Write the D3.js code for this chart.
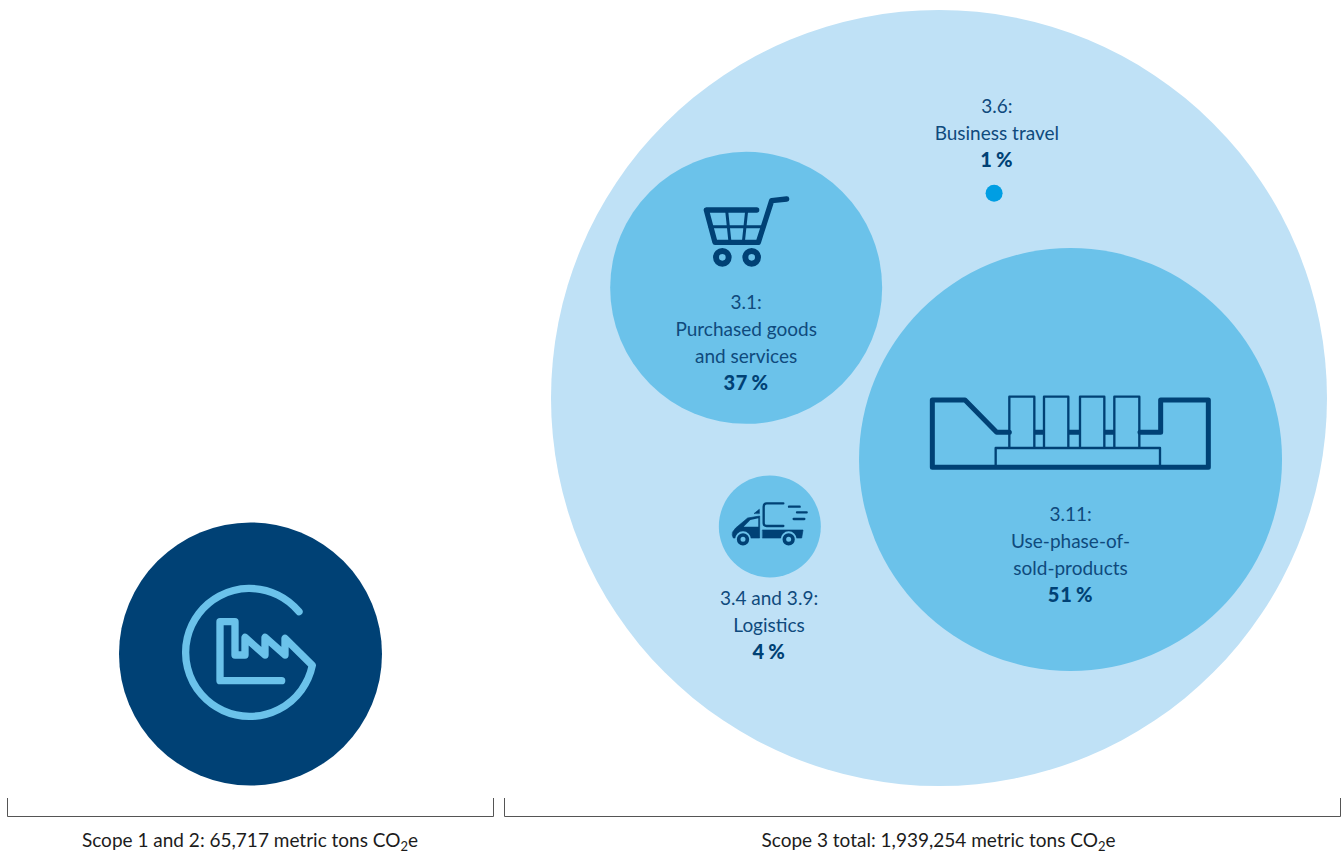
<!DOCTYPE html>
<html>
<head>
<meta charset="utf-8">
<style>
html,body{margin:0;padding:0;background:#fff;}
svg{display:block;}
text{font-family:"Lato","Noto Sans",sans-serif;fill:#0f4a7d;font-size:19px;text-anchor:middle;}
</style>
<script src="https://cdn.jsdelivr.net/npm/d3@7/dist/d3.min.js"></script>
</head>
<body>
<svg id="chart" width="1344" height="853"></svg>
<script>
// Emissions totals, metric tons CO2e
const scopeNames = ["Scope 1 and 2", "Scope 3 total"];
const scopeTons = [65717, 1939254];

// Scope 3 categories
const categoryIds = ["3.11", "3.1", "3.4 and 3.9", "3.6"];
const categoryNames = [["Use-phase-of-", "sold-products"], ["Purchased goods", "and services"], ["Logistics"], ["Business travel"]];
const categoryShares = [51, 37, 4, 1];

const INK = "#004175", PALE = "#bfe1f6", MID = "#6bc2ea", DOT = "#009ee3";
const svg = d3.select("#chart");

// Bubble sizes are illustrative, so each scale runs through its own hand-set stops
const tonsRadius = d3.scaleLinear().domain(scopeTons).range([131.5, 388]);
const shareRadius = d3.scaleLinear().domain([1, 4, 37, 51]).range([8.5, 51, 136, 211.5]);

// Scope 3 layout works in units of the outer circle's radius
const xIn = d3.scaleLinear().domain([-1, 1]).range([551, 1327]);
const yIn = d3.scaleLinear().domain([-1, 1]).range([10, 786]);
const categorySpotX = [0.339, -0.497, -0.436, 0.142];
const categorySpotY = [0.1585, -0.284, 0.331, -0.528];
const categoryLabelX = [0.339, -0.497, -0.438, 0.149];
const categoryLabelTop = [0.316, -0.23, 0.534, -0.734];
const LINE = 27;

svg.append("circle").attr("cx", 250.5).attr("cy", 654).attr("r", tonsRadius(scopeTons[0])).attr("fill", INK);
svg.append("circle").attr("cx", xIn(0)).attr("cy", yIn(0)).attr("r", tonsRadius(scopeTons[1])).attr("fill", PALE);

svg.selectAll("circle.cat").data(categoryShares).join("circle")
  .attr("class", "cat")
  .attr("cx", (d, i) => xIn(categorySpotX[i]))
  .attr("cy", (d, i) => yIn(categorySpotY[i]))
  .attr("r", d => shareRadius(d))
  .attr("fill", d => d === 1 ? DOT : MID);

// Category labels: id, name lines, then the share in bold
categoryShares.forEach((share, i) => {
  const x = xIn(categoryLabelX[i]);
  const top = yIn(categoryLabelTop[i]);
  const lines = [categoryIds[i] + ":", ...categoryNames[i]];
  lines.forEach((t, k) => svg.append("text").attr("x", x).attr("y", top + k * LINE).text(t));
  svg.append("text").attr("x", x).attr("y", top + lines.length * LINE)
    .attr("font-weight", 900).style("fill", INK).style("font-size", "20px").style("letter-spacing", "0.8px").text(share + "\u2009%");
});

// Brackets and captions under the two groups
const brackets = [[7, 494], [504, 1341]];
brackets.forEach((b, i) => {
  svg.append("path").attr("d", `M${b[0]+.5},798V816.5H${b[1]-.5}V798`)
    .attr("fill", "none").attr("stroke", "#555").attr("stroke-width", 1);
  const t = svg.append("text").attr("x", i ? 938.5 : 250).attr("y", 847).style("fill", "#1c1c1c");
  t.append("tspan").text(`${scopeNames[i]}: ${d3.format(",")(scopeTons[i])} metric tons CO`);
  t.append("tspan").style("font-size", "13px").attr("dy", 4).text("2");
  t.append("tspan").attr("dy", -4).text("e");
});

// Icons, each drawn in its own local coordinates
function icon(x, y, s) { return svg.append("g").attr("transform", `translate(${x},${y}) scale(${s})`)
  .attr("fill", "none").attr("stroke-linecap", "round").attr("stroke-linejoin", "round"); }

// Factory inside an open ring
icon(150, 560, 1/3).append("path").attr("stroke", MID).attr("stroke-width", 22)
  .attr("d", "M447,155A192,192 0 1 0 487,316L405,235V285L345,232V285L285,232V285H255V185H210V362H395");

// Shopping cart
const cart = icon(680, 180, 1/3).attr("stroke", INK);
cart.append("path").attr("stroke-width", 16).attr("d", "M320,57L275,62L235,187H105L79,90H230");
cart.append("path").attr("stroke-width", 9).attr("d", "M140,92L150,187M200,92L190,187M90,140H250");
cart.selectAll("circle").data([127, 215]).join("circle").attr("cx", d => d).attr("cy", 232).attr("r", 19).attr("stroke-width", 18);

// Printing press
const press = icon(920, 385, 1/3).attr("stroke", INK);
press.append("path").attr("stroke-width", 15)
  .attr("d", "M268,142H230L135,45H37V247H865V45H722V142H660");
press.append("path").attr("stroke-width", 15).attr("stroke-linecap", "butt")
  .attr("d", "M343,142H372M445,142H480M553,142H583");
press.append("path").attr("stroke-width", 7)
  .attr("d", "M268,187V35H343V187M372,187V35H445V187M480,187V35H553V187M583,187V35H658V187M227,245V189H720V245");

// Delivery truck with speed lines
const truck = icon(715, 490, 1/3).attr("stroke", INK);
truck.append("path").attr("stroke-width", 7)
  .attr("d", "M205,40H155Q146,40 146,50V100Q146,108 155,108H205M222,50H254M246,67H275M236,87H268");
truck.append("path").attr("fill", INK).attr("stroke-width", 2)
  .attr("d", "M118,70L133,58V70ZM53,126L62,114L98,84L134,78V144H55L52,136ZM143,120H264L260,144H143Z");
truck.append("path").attr("fill", MID).attr("stroke", "none").attr("d", "M86,110L106,90L130,85V110Z");
// Wheels sit in light arches cut out of the body
truck.selectAll("circle.arch").data([84, 221]).join("circle").attr("class", "arch")
  .attr("cx", d => d).attr("cy", 148).attr("r", 24).attr("fill", MID).attr("stroke", "none");
truck.selectAll("circle.wheel").data([84, 221]).join("circle").attr("class", "wheel")
  .attr("cx", d => d).attr("cy", 148).attr("r", 13).attr("fill", MID).attr("stroke-width", 11);
</script>
</body>
</html>
